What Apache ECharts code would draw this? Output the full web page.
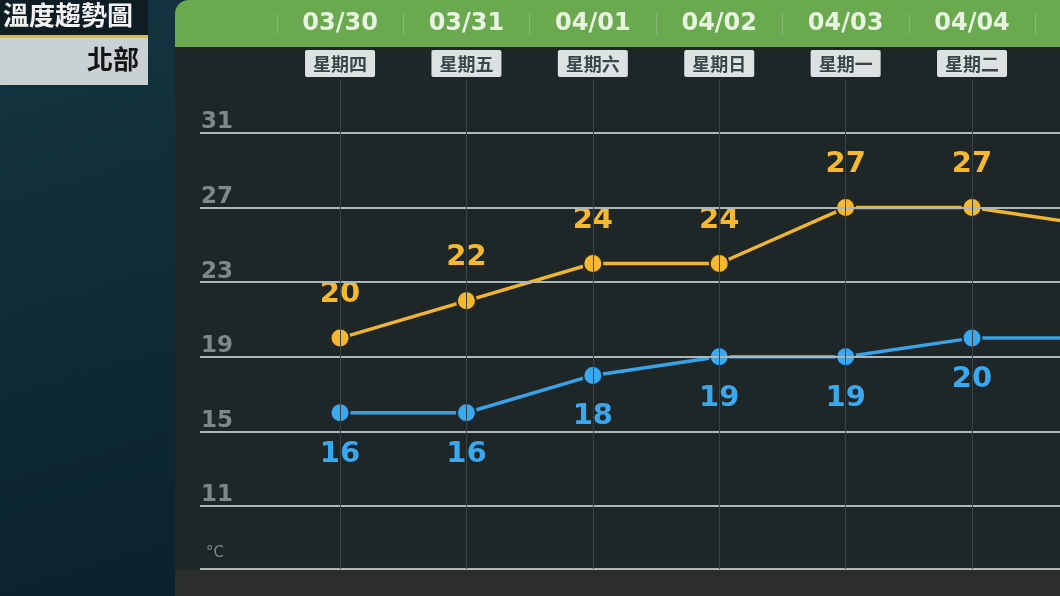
<!DOCTYPE html>
<html><head><meta charset="utf-8">
<script src="https://cdn.jsdelivr.net/npm/echarts@6/dist/echarts.min.js"></script>
<style>html,body{margin:0;padding:0;background:#12303b}#c{width:1060px;height:596px}</style>
</head><body><div id="c"></div>
<script>
const dates = ['03/30','03/31','04/01','04/02','04/03','04/04','04/05'];
const weekdays = ['星期四','星期五','星期六','星期日','星期一','星期二','星期三'];
const highs = [20,22,24,24,27,27,26];
const lows = [16,16,18,19,19,20,20];
const yTicks = [11,15,19,23,27,31];
const chartTitle = '溫度趨勢圖';
const region = '北部';
const unit = '°C';

const idx = dates.map((d,i)=>i);
const sep = [-0.5].concat(idx.map(i=>i+0.5));
const X_MIN = -1.108, X_MAX = 5.696, Y_MIN = 7.62, Y_MAX = 33.84;
const CJK = '"Noto Sans CJK TC","Noto Sans",sans-serif';
const NUM = '"DejaVu Sans","Noto Sans",sans-serif';
const PANEL = '#1e2628';

const chart = echarts.init(document.getElementById('c'), null, {renderer:'canvas'});
const hLines = yTicks.map(v=>({yAxis:v}));
hLines.push({yAxis:Y_MIN, label:{formatter:unit, fontSize:15, fontWeight:'normal', distance:[6,8]}});
const vLines = idx.map(i=>({xAxis:i, lineStyle:{color:'#3a4446', width:1, type:'solid'}, label:{show:false}}));

chart.setOption({
  animation:false,
  backgroundColor:'#12303b',
  graphic:[
    {type:'rect', z:-10, shape:{x:0,y:0,width:180,height:596}, style:{fill:new echarts.graphic.LinearGradient(0,0,1,1,[{offset:0,color:'#133541'},{offset:1,color:'#0b222c'}])}},
    {type:'rect', z:-9, shape:{x:0,y:0,width:148,height:36}, style:{fill:'#0d1d23'}},
    {type:'rect', z:-9, shape:{x:0,y:35,width:148,height:3}, style:{fill:'#e3b63c'}},
    {type:'rect', z:-9, shape:{x:0,y:38,width:148,height:47}, style:{fill:'#c9d1d3'}},
    {type:'rect', z:-9, shape:{x:175,y:0,width:900,height:596,r:[14,0,0,0]}, style:{fill:PANEL}},
    {type:'rect', z:-8, shape:{x:175,y:0,width:900,height:47,r:[14,0,0,0]}, style:{fill:'#6aa94f'}},
    {type:'rect', z:-8, shape:{x:175,y:570,width:900,height:26}, style:{fill:'#2a2d2b'}}
  ],
  title:[
    {text:chartTitle, left:3, top:2, padding:0, textStyle:{color:'#f2f2f2', fontSize:26, fontWeight:'bold', fontFamily:CJK}},
    {text:region, right:1060-139, top:46, padding:0, textStyle:{color:'#141414', fontSize:26, fontWeight:'bold', fontFamily:CJK}}
  ],
  grid:{left:200, right:0, top:80, bottom:27, containLabel:false},
  xAxis:[
    {type:'value', min:X_MIN, max:X_MAX, position:'bottom', axisLine:{show:false}, axisTick:{show:false}, axisLabel:{show:false}, splitLine:{show:false}},
    {type:'value', min:X_MIN, max:X_MAX, position:'top', axisLine:{show:false}, axisTick:{show:false}, splitLine:{show:false},
      axisLabel:{customValues:idx, formatter:v=>weekdays[Math.round(v)], margin:3, color:'#3a4646', fontSize:18, fontWeight:'bold', fontFamily:CJK,
        backgroundColor:'#dce2e2', padding:[4,8,3,8], borderRadius:2, lineHeight:20}},
    {type:'value', min:X_MIN, max:X_MAX, position:'top', axisLine:{show:false}, axisTick:{show:false}, splitLine:{show:false},
      axisLabel:{customValues:idx, formatter:v=>dates[Math.round(v)], margin:44, color:'#e8f4e0', fontSize:24, fontWeight:'bold', fontFamily:NUM}},
    {type:'value', min:X_MIN, max:X_MAX, position:'top', offset:46, axisLine:{show:false}, axisLabel:{show:false}, splitLine:{show:false},
      axisTick:{show:true, customValues:sep, length:20, inside:false, lineStyle:{color:'rgba(255,255,255,0.2)', width:1}}}
  ],
  yAxis:{type:'value', min:Y_MIN, max:Y_MAX, show:false, splitLine:{show:false}},
  series:[
    {type:'line', data:[], z:1, silent:true,
      markLine:{symbol:['none','none'], silent:true, animation:false,
        lineStyle:{color:'#adb6b8', width:2, type:'solid'},
        label:{position:'insideStartTop', distance:[1,-1], color:'#7d888a', fontSize:23, fontWeight:'bold', fontFamily:NUM, padding:0},
        data:hLines.concat(vLines)}},
    {type:'line', name:'高溫', z:3, data:highs.map((v,i)=>[i,v]), symbol:'circle', symbolSize:19,
      itemStyle:{color:'#f5b82e', borderColor:'#2b2a22', borderWidth:2},
      lineStyle:{color:'#f0b530', width:3.5},
      label:{show:true, position:'top', distance:18, formatter:p=>p.value[1], color:'#f5b82e', fontSize:29, fontWeight:'bold', fontFamily:NUM,
        backgroundColor:PANEL, padding:[0,4], lineHeight:30}},
    {type:'line', name:'低溫', z:3, data:lows.map((v,i)=>[i,v]), symbol:'circle', symbolSize:19,
      itemStyle:{color:'#3aa8ef', borderColor:'#1d2a33', borderWidth:2},
      lineStyle:{color:'#38a3e6', width:3.5},
      label:{show:true, position:'bottom', distance:16, formatter:p=>p.value[1], color:'#3aa8ef', fontSize:29, fontWeight:'bold', fontFamily:NUM,
        backgroundColor:PANEL, padding:[0,4], lineHeight:30}}
  ]
});
</script></body></html>
